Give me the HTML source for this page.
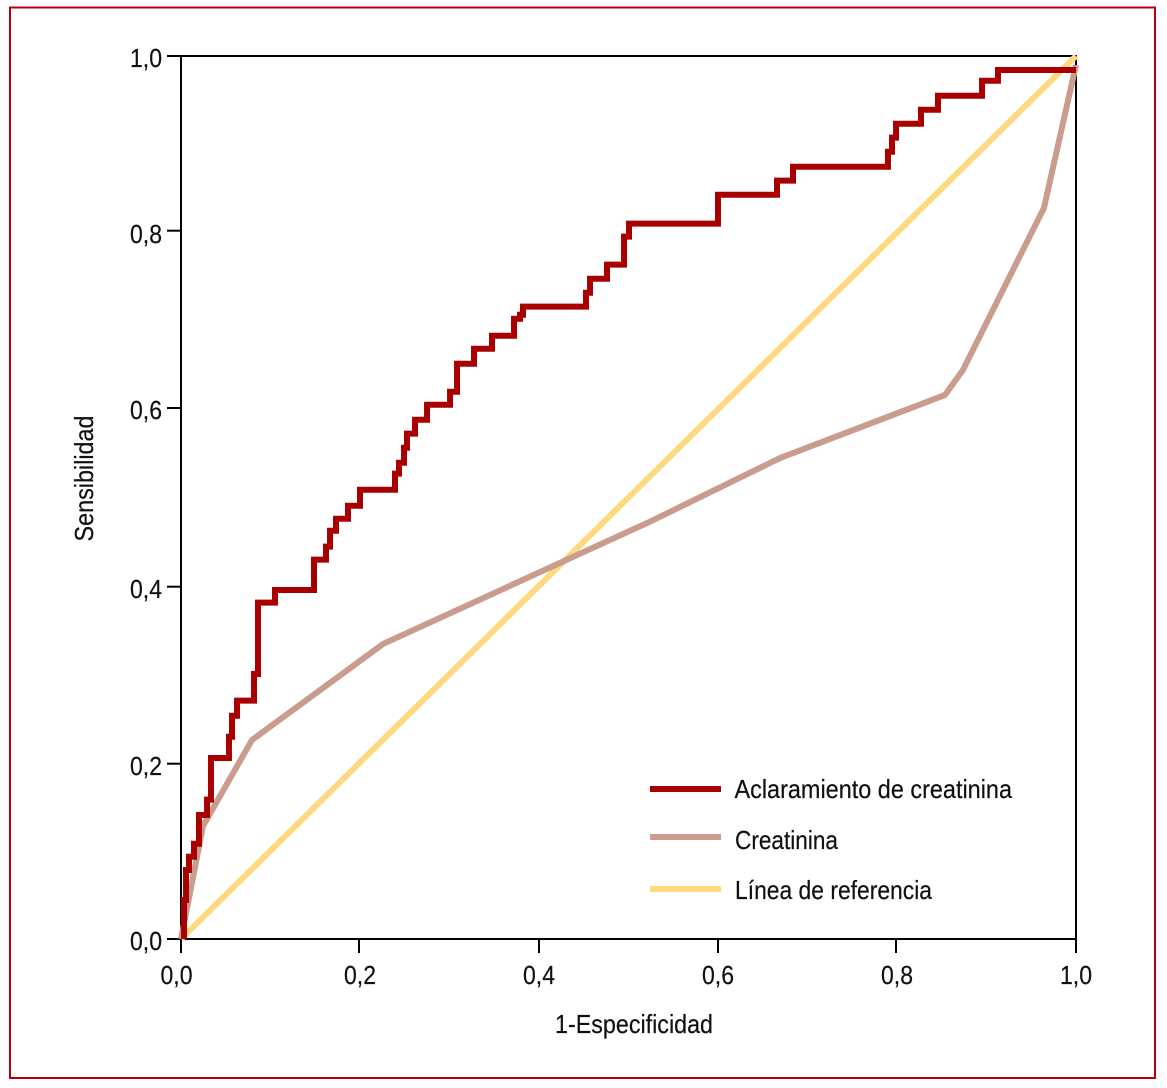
<!DOCTYPE html>
<html lang="es">
<head>
<meta charset="utf-8">
<title>Curva ROC</title>
<style>
html,body{margin:0;padding:0;background:#fff;width:1167px;height:1088px;overflow:hidden}
svg{display:block}
text{font-family:"Liberation Sans",sans-serif;fill:#111;stroke:#111;stroke-width:.2}
</style>
</head>
<body>
<svg id="chart" width="1167" height="1088" viewBox="0 0 1167 1088" xmlns="http://www.w3.org/2000/svg">
  <rect x="10" y="7.5" width="1145" height="1070.5" fill="none" stroke="#b3000f" stroke-width="2"/>
  <rect x="181" y="56" width="895" height="883" fill="none" stroke="#000" stroke-width="2"/>
  <g id="axes"></g>
  <g id="series"></g>
  <text x="555" y="1033" font-size="26" textLength="158" lengthAdjust="spacingAndGlyphs">1-Especificidad</text>
  <text transform="translate(93,541.5) rotate(-90)" font-size="26" textLength="126" lengthAdjust="spacingAndGlyphs">Sensibilidad</text>
  <g>
    <g>
      <rect x="650" y="786" width="71" height="6" fill="#a80000"/>
      <text x="734.5" y="798" font-size="26" textLength="277.5" lengthAdjust="spacingAndGlyphs">Aclaramiento de creatinina</text>
    </g>
    <g>
      <rect x="650" y="834" width="71" height="6" fill="#c99c8e"/>
      <text x="735" y="849" font-size="26" textLength="103" lengthAdjust="spacingAndGlyphs">Creatinina</text>
    </g>
    <g>
      <rect x="650" y="886" width="71" height="6" fill="#ffd97f"/>
      <text x="735" y="899" font-size="26" textLength="197" lengthAdjust="spacingAndGlyphs">Línea de referencia</text>
    </g>
  </g>
</svg>
<script>
const tickValues = [0, 0.2, 0.4, 0.6, 0.8, 1];
const tickLabels = ['0,0', '0,2', '0,4', '0,6', '0,8', '1,0'];
const referenceFpr = [0, 1];
const referenceTpr = [0, 1];
const creatininaFpr = [0, 0.0246, 0.0793, 0.2257, 0.524, 0.6693, 0.8536, 0.8737, 0.9642, 1];
const creatininaTpr = [0, 0.128, 0.2254, 0.3341, 0.4726, 0.5447, 0.6161, 0.6444, 0.8279, 0.9898];
const aclaramientoFpr = [0.0034, 0.0056, 0.0089, 0.0145, 0.0201, 0.0291, 0.0335, 0.0536, 0.057, 0.0626, 0.0816, 0.086, 0.105, 0.1486, 0.162, 0.1665, 0.1732, 0.1866, 0.2, 0.2391, 0.2436, 0.2492, 0.2525, 0.2615, 0.2749, 0.3006, 0.3084, 0.3274, 0.3475, 0.3721, 0.3788, 0.3821, 0.4525, 0.457, 0.476, 0.495, 0.5006, 0.6, 0.6659, 0.6838, 0.7899, 0.7944, 0.7989, 0.8268, 0.8458, 0.895, 0.9128];
const aclaramientoTpr = [0.0442, 0.0781, 0.0932, 0.1079, 0.1404, 0.1578, 0.205, 0.2291, 0.2529, 0.2699, 0.3001, 0.3809, 0.3952, 0.4296, 0.4443, 0.4624, 0.476, 0.4907, 0.5088, 0.527, 0.5394, 0.5564, 0.5723, 0.5881, 0.6051, 0.6198, 0.6515, 0.6685, 0.6832, 0.7025, 0.707, 0.7161, 0.7319, 0.7478, 0.7637, 0.7954, 0.8101, 0.8429, 0.8588, 0.8746, 0.8916, 0.9075, 0.9233, 0.9392, 0.955, 0.972, 0.9841];

const NS = 'http://www.w3.org/2000/svg';
function sx(v) { return 181 + v * 895; }
function sy(v) { return 939 - v * 883; }
function make(tag, attrs, parent) {
  const el = document.createElementNS(NS, tag);
  for (const k in attrs) el.setAttribute(k, attrs[k]);
  parent.appendChild(el);
  return el;
}
/* The printed figure's tick marks sit slightly off an even grid. */
function tickShiftY(i) { return [0, 1.3, 0.9, -1.2, -1.9, 0][i]; }
function labelShiftY(i) { return [0, 1.5, 1, -1, -0.5, 0][i]; }
function tickShiftX(i) { return [0, -1, 0, 0, -1, 0][i]; }

const axes = document.getElementById('axes');
const series = document.getElementById('series');

tickValues.forEach(function (v, i) {
  const xt = make('line', { x1: sx(v) + tickShiftX(i), x2: sx(v) + tickShiftX(i), y1: 939, y2: 953, stroke: '#000', 'stroke-width': 2 }, axes);
  
  
  const yt = make('line', { x1: 167, x2: 181, y1: sy(v) + tickShiftY(i), y2: sy(v) + tickShiftY(i), stroke: '#000', 'stroke-width': 2 }, axes);
  
  
  const xl = make('text', { x: i === 0 ? sx(v) - 4.5 : sx(v), y: 984, 'font-size': 26, 'text-anchor': 'middle', textLength: 32, lengthAdjust: 'spacingAndGlyphs' }, axes);
  xl.textContent = tickLabels[i];
  
  
  const yl = make('text', { x: 130, y: sy(v) + 11 + labelShiftY(i), 'font-size': 26, textLength: 32, lengthAdjust: 'spacingAndGlyphs' }, axes);
  yl.textContent = tickLabels[i];
  
  
});

function linePath(xs, ys) {
  return xs.map(function (x, i) { return (i ? 'L' : 'M') + sx(x).toFixed(2) + ' ' + sy(ys[i]).toFixed(2); }).join(' ');
}
function stepPath(xs, ys) {
  let d = 'M' + sx(xs[0]).toFixed(2) + ' ' + sy(0).toFixed(2);
  xs.forEach(function (x, i) {
    d += ' L' + sx(x).toFixed(2) + ' ' + sy(ys[i]).toFixed(2);
    const nextX = i + 1 < xs.length ? xs[i + 1] : 1;
    d += ' L' + sx(nextX).toFixed(2) + ' ' + sy(ys[i]).toFixed(2);
  });
  return d;
}

const refLine = make('path', { d: linePath(referenceFpr, referenceTpr), fill: 'none', stroke: '#ffd97f', 'stroke-width': 6 }, series);



const creLine = make('path', { d: linePath(creatininaFpr, creatininaTpr), fill: 'none', stroke: '#c99c8e', 'stroke-width': 6, 'stroke-linejoin': 'miter' }, series);



const aclLine = make('path', { d: stepPath(aclaramientoFpr, aclaramientoTpr), fill: 'none', stroke: '#a80000', 'stroke-width': 6, 'stroke-linejoin': 'miter', 'stroke-miterlimit': 4 }, series);


</script>
</body>
</html>
